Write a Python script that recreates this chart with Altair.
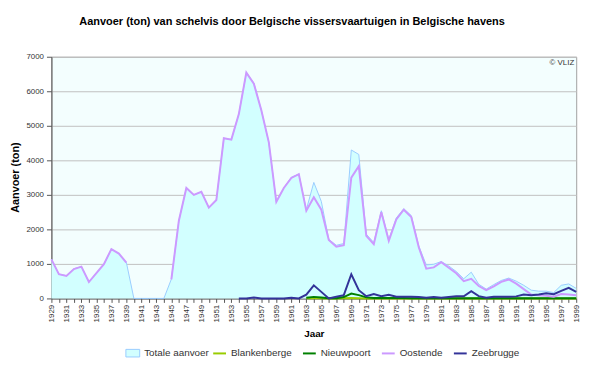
import altair as alt
import pandas as pd

years = list(range(1929, 2000))

totale = [1140, 700, 660, 860, 920, 480, 740, 990, 1430, 1300, 1040,
          0, 0, 0, 0, 0,
          560, 2250, 3200, 3000, 3090, 2630, 2850, 4640, 4600, 5340, 6540, 6240, 5450, 4520, 2800, 3200, 3510, 3600,
          2570, 3360, 2810, 1710, 1540, 1590, 4300, 4170, 1860, 1620, 2540, 1710, 2330, 2600, 2400, 1520,
          970, 990, 1070, 940, 780, 570, 760, 410, 270, 400, 520, 590, 500, 380, 240, 210, 210, 170, 380, 420, 290]

oostende = [1130, 700, 650, 850, 920, 475, 730, 990, 1430, 1300, 1035,
            None, None, None, None, None,
            550, 2250, 3200, 3000, 3090, 2630, 2850, 4640, 4600, 5340, 6540, 6220, 5450, 4520, 2800, 3200, 3490, 3600,
            2540, 2930, 2570, 1690, 1500, 1540, 3500, 3830, 1810, 1570, 2500, 1670, 2290, 2570, 2360, 1480,
            860, 900, 1050, 890, 730, 500, 570, 360, 240, 350, 480, 550, 430, 270, 115, 95, 75, 50, 125, 115, 95]

zeebrugge = [None] * 25 + [
    0, 0, 25, 0, 0, 0, 0, 20, 0,
    110, 380, 190, 0, 50, 95, 700, 240, 65, 125, 65, 105, 50, 50, 50, 40,
    20, 40, 20, 40, 60, 60, 210, 65, 20, 50, 50, 50, 60, 115, 95, 115, 150, 125, 220, 305, 190]

nieuwpoort = [None] * 34 + [
    20, 45, 30, 5, 5, 40, 140, 95, 30, 15, 10, 10, 10, 10, 5,
    5, 5, 5, 5, 5, 5, 5, 5, 5, 5, 5, 5, 5, 5, 5, 5, 5, 5, 5, 5, 5, 5]

blankenberge = [None] * 34 + [
    5, 10, 5, 0, 0, 5, 10, 5, 0, 0, 0, 0, 0, 0, 0,
    0, 0, 0, 0, 0, 0, 0, 0, 0, 0, 0, 0, 0, 0, 0, 0, 0, 0, 0, 0, 0, 0]

y_ticks = [0, 1000, 2000, 3000, 4000, 5000, 6000, 7000]

havens = ["Blankenberge", "Nieuwpoort", "Oostende", "Zeebrugge"]
haven_kleuren = ["#99cc00", "#008000", "#cc99ff", "#333399"]

series = {"Blankenberge": blankenberge, "Nieuwpoort": nieuwpoort,
          "Oostende": oostende, "Zeebrugge": zeebrugge}
rows = []
for name, vals in series.items():
    seg = 0
    for yr, v in zip(years, vals):
        if v is None:
            seg += 1
            continue
        rows.append({"Jaar": yr, "Aanvoer": v, "Haven": name, "seg": seg})
lines_df = pd.DataFrame(rows)
tot_df = pd.DataFrame({"Jaar": years, "Aanvoer": totale, "Serie": ["Totale aanvoer"] * len(years)})

FONT = "Liberation Sans"

x_axis = alt.Axis(values=years, labelExpr="datum.value % 2 == 1 ? datum.value : ''",
                  labelOverlap=False, labelAngle=270, labelAlign="right", labelBaseline="middle",
                  labelFontSize=8, labelPadding=2, tickSize=4, grid=False,
                  title="Jaar", titleX=266, titleY=36, titleBaseline="middle",
                  titleFontSize=10, titleFontWeight="bold")
y_axis = alt.Axis(values=y_ticks, format="d", labelOverlap=False,
                  labelFontSize=8, labelPadding=3, tickSize=5, grid=True,
                  title="Aanvoer (ton)", titleAngle=270, titleX=-36, titleY=122,
                  titleAlign="center", titleBaseline="middle",
                  titleFontSize=11, titleFontWeight="bold")
x_scale = alt.Scale(domain=[1929, 1999], nice=False, zero=False)
y_scale = alt.Scale(domain=[0, 7000], nice=False)

x_enc = alt.X("Jaar:Q", scale=x_scale, axis=x_axis)
y_enc = alt.Y("Aanvoer:Q", scale=y_scale, axis=y_axis)

area = alt.Chart(tot_df).mark_area(opacity=1).encode(
    x=x_enc, y=y_enc,
    fill=alt.Fill("Serie:N", scale=alt.Scale(domain=["Totale aanvoer"], range=["#d2ffff"]),
                  legend=alt.Legend(title=None, orient="none", legendX=75, legendY=293,
                                    direction="horizontal", padding=0,
                                    symbolType="M-1,-0.55L1,-0.55L1,0.55L-1,0.55Z", symbolSize=196,
                                    symbolStrokeColor="#99ccff", symbolStrokeWidth=1, symbolOpacity=1,
                                    labelFont=FONT, labelFontSize=10, labelColor="#333333", labelOffset=4))
)

outline = alt.Chart(tot_df).mark_line(color="#99ccff", strokeWidth=1).encode(x=x_enc, y=y_enc)

lines = alt.Chart(lines_df).mark_line(strokeWidth=2).encode(
    x=x_enc, y=y_enc, detail="seg:N",
    stroke=alt.Stroke("Haven:N", scale=alt.Scale(domain=havens, range=haven_kleuren),
                      legend=alt.Legend(title=None, orient="none", legendX=163, legendY=293,
                                        direction="horizontal", padding=0, columnPadding=7,
                                        symbolType="stroke", symbolSize=169, symbolStrokeWidth=2,
                                        labelFont=FONT, labelFontSize=10, labelColor="#333333",
                                        labelOffset=4))
)

vliz = alt.Chart(pd.DataFrame({"t": ["© VLIZ"]})).mark_text(
    align="right", baseline="middle", fontSize=8, font=FONT, color="#333333"
).encode(x=alt.value(530), y=alt.value(6), text="t:N")

chart = alt.layer(area, outline, lines, vliz).properties(
    width=532, height=245,
    autosize=alt.AutoSizeParams(type="none"),
    padding={"left": 44, "top": 47, "right": 16, "bottom": 60},
    background="white",
    title=alt.Title("Aanvoer (ton) van schelvis door Belgische vissersvaartuigen in Belgische havens",
                    font=FONT, fontSize=11.1, fontWeight="bold", color="#000000",
                    anchor="middle", frame="group", offset=17, dx=-22, baseline="alphabetic"),
).configure_view(
    stroke="#a0a0a0", fill="#f3fefe"
).configure_axis(
    labelFont=FONT, titleFont=FONT, labelColor="#333333", titleColor="#000000",
    domainColor="#555555", tickColor="#555555", gridColor="#c0c0c0", gridWidth=1
)

chart.save("out.html", embed_options={"renderer": "svg", "actions": False})
